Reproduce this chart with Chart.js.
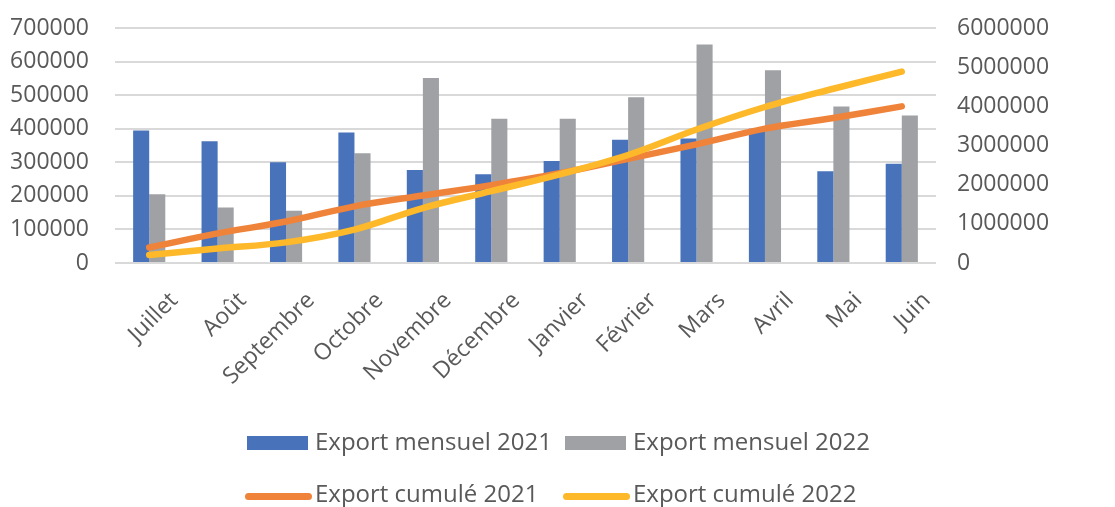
<!DOCTYPE html>
<html lang="fr">
<head>
<meta charset="utf-8">
<title>Export mensuel et cumulé</title>
<script src="https://cdn.jsdelivr.net/npm/chart.js@4.4.1/dist/chart.umd.min.js"></script>
<style>
    body { margin: 0; background: #fff; }
    #wrap { position: relative; width: 1115px; height: 507px; }
    #legend { position: absolute; left: 0; top: 0; width: 1115px; height: 507px; pointer-events: none;
              font-family: 'Open Sans', sans-serif; font-size: 24px; line-height: 24px; color: #595959; }
    .item { position: absolute; height: 24px; white-space: nowrap; }
    .item .swatch { position: absolute; }
    .item .text { position: absolute; left: 70px; top: 0; }
</style>
</head>
<body>
<div id="wrap">
    <canvas id="chart"></canvas>
    <div id="legend"></div>
</div>
<script>
// months of the fiscal year, July to June
var months = ['Juillet', 'Août', 'Septembre', 'Octobre', 'Novembre', 'Décembre',
              'Janvier', 'Février', 'Mars', 'Avril', 'Mai', 'Juin'];

// monthly exports (left axis)
var exportMensuel2021 = [395000, 362500, 300000, 389000, 277000, 264000,
                         304000, 367000, 371000, 400000, 273000, 296000];
var exportMensuel2022 = [205000, 165000, 156000, 327000, 551000, 430000,
                         430000, 494000, 651000, 574000, 466000, 439000];

// running totals (right axis)
var exportCumule2021 = [395000, 757000, 1058000, 1447000, 1724000, 1988000,
                        2292000, 2659000, 3030000, 3430000, 3703000, 3999000];
var exportCumule2022 = [205000, 370000, 526000, 853000, 1404000, 1834000,
                        2264000, 2758000, 3409000, 3983000, 4449000, 4888000];

// axis ranges
var leftAxis = [0, 700000, 100000];
var rightAxis = [0, 6000000, 1000000];

var textColor = '#595959';
var gridColor = '#d9d9d9';

Chart.defaults.font.family = "'Open Sans', sans-serif";
Chart.defaults.color = textColor;

var datasets = [
    {
        type: 'bar', label: 'Export mensuel 2021', data: exportMensuel2021,
        backgroundColor: '#4872ba', yAxisID: 'y', order: 2,
        categoryPercentage: 0.47, barPercentage: 1
    },
    {
        type: 'bar', label: 'Export mensuel 2022', data: exportMensuel2022,
        backgroundColor: '#9fa1a5', yAxisID: 'y', order: 3,
        categoryPercentage: 0.47, barPercentage: 1
    },
    {
        type: 'line', label: 'Export cumulé 2021', data: exportCumule2021,
        borderColor: '#f0833a', backgroundColor: '#f0833a', yAxisID: 'y1', order: 1,
        borderWidth: 6.5, pointRadius: 0, tension: 0.35, fill: false,
        borderCapStyle: 'round', borderJoinStyle: 'round'
    },
    {
        type: 'line', label: 'Export cumulé 2022', data: exportCumule2022,
        borderColor: '#fdb92a', backgroundColor: '#fdb92a', yAxisID: 'y1', order: 0,
        borderWidth: 6.5, pointRadius: 0, tension: 0.35, fill: false,
        borderCapStyle: 'round', borderJoinStyle: 'round'
    }
];

var plainNumber = function (v) { return String(v); };

// fixed axis box sizes; the value axes get no extra top/bottom padding
var fixWidth = function (w) {
    return function (s) {
        s.width = w;
        s.paddingTop = 0;
        s.paddingBottom = 0;
    };
};

var chart = new Chart(document.getElementById('chart'), {
    data: { labels: months, datasets: datasets },
    options: {
        responsive: true,
        maintainAspectRatio: false,
        animation: false,
        layout: { padding: { top: 28, left: 0, right: 0, bottom: 0 } },
        plugins: {
            legend: { display: false },
            tooltip: { enabled: false }
        },
        scales: {
            x: {
                grid: { display: false },
                border: { display: false },
                ticks: {
                    minRotation: 45, maxRotation: 45, autoSkip: false,
                    padding: 16, labelOffset: 25,
                    font: { size: 23 }
                },
                afterFit: function (s) { s.height = 244; }
            },
            y: {
                position: 'left',
                min: leftAxis[0], max: leftAxis[1],
                grid: { color: gridColor, lineWidth: 2, drawTicks: false },
                border: { display: false },
                ticks: { stepSize: leftAxis[2], padding: 26, font: { size: 23 }, callback: plainNumber },
                afterFit: fixWidth(115)
            },
            y1: {
                position: 'right',
                min: rightAxis[0], max: rightAxis[1],
                grid: { display: false, drawTicks: false },
                border: { display: false },
                ticks: { stepSize: rightAxis[2], padding: 21, font: { size: 23 }, callback: plainNumber },
                afterFit: fixWidth(179)
            }
        }
    }
});

// legend below the chart: bars on the first row, lines on the second
var legend = document.getElementById('legend');
var colLeft = [245, 563];
var rowTop = [429, 481];
chart.data.datasets.forEach(function (ds, i) {
    var item = document.createElement('div');
    item.className = 'item';
    item.style.left = colLeft[i % 2] + 'px';
    item.style.top = rowTop[Math.floor(i / 2)] + 'px';

    var sw = document.createElement('span');
    sw.className = 'swatch';
    if (ds.type === 'bar') {
        sw.style.left = '2px'; sw.style.top = '7px';
        sw.style.width = '61px'; sw.style.height = '14px';
        sw.style.background = ds.backgroundColor;
    } else {
        sw.style.left = '0px'; sw.style.top = '12px';
        sw.style.width = '67px'; sw.style.height = '7px';
        sw.style.borderRadius = '4px';
        sw.style.background = ds.borderColor;
    }
    var tx = document.createElement('span');
    tx.className = 'text';
    tx.textContent = ds.label;

    item.appendChild(sw);
    item.appendChild(tx);
    legend.appendChild(item);
});
</script>
</body>
</html>
